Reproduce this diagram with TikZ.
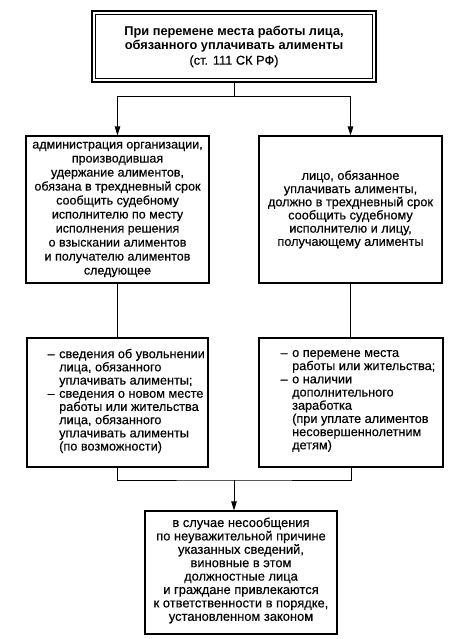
\documentclass[tikz,border=0pt]{standalone}
\usepackage{fontspec}
\setmainfont{Liberation Sans}
\newfontfamily\bodyfont{Liberation Sans}[FakeBold=0.4]
\usetikzlibrary{arrows.meta}
\begin{document}
\begin{tikzpicture}[x=1pt,y=1pt,
  box/.style={draw, line width=1.1pt, inner sep=0pt},
  txt/.style={font=\bodyfont\fontsize{12.7}{13.2}\selectfont, align=center, inner sep=0pt},
  ltxt/.style={font=\bodyfont\fontsize{12.7}{13.2}\selectfont, align=left, inner sep=0pt, anchor=west},
  conn/.style={line width=1pt},
  arr/.style={conn, -{Triangle[length=9pt,width=5.5pt]}}]
\useasboundingbox (0,0) rectangle (458,-639);
% top box
\node[box, line width=2.4pt, minimum width=284pt, minimum height=71pt] (top) at (234,-46.5) {};
\draw[line width=0.8pt] ([shift={(4.5,-4.5)}]top.north west) rectangle ([shift={(-4.5,4.5)}]top.south east);
\node[txt, font=\fontsize{12.8}{14.8}\selectfont] (toptext) at (234,-46.5)
  {\textbf{При перемене места работы лица,}\\\textbf{обязанного уплачивать алименты}\\{\bodyfont(ст. 111 СК РФ)}};
% second row
\node[box, minimum width=183pt, minimum height=147pt] (l2) at (117.5,-209.5) {};
\node[txt, font=\bodyfont\fontsize{12.5}{14}\selectfont] (l2t) at (l2.center)
  {администрация организации,\\производившая\\удержание алиментов,\\обязана в трехдневный срок\\сообщить судебному\\исполнителю по месту\\исполнения решения\\о взыскании алиментов\\и получателю алиментов\\следующее};
\node[box, minimum width=183pt, minimum height=147pt] (r2) at (350.5,-209.5) {};
\node[txt] (r2t) at (r2.center)
  {лицо, обязанное\\уплачивать алименты,\\должно в трехдневный срок\\сообщить судебному\\исполнителю и лицу,\\получающему алименты};
% third row
\node[box, minimum width=181pt, minimum height=129pt] (l3) at (117.5,-402.5) {};
\node[ltxt] (l3t) at (59,-401)
  {\llap{–\hspace{4.5pt}}сведения об увольнении\\лица, обязанного\\уплачивать алименты;\\\llap{–\hspace{4.5pt}}сведения о новом месте\\работы или жительства\\лица, обязанного\\уплачивать алименты\\(по возможности)};
\node[box, minimum width=184pt, minimum height=129pt] (r3) at (351,-402.5) {};
\node[ltxt] (r3t) at (292,-401)
  {\llap{–\hspace{4.5pt}}о перемене места\\работы или жительства;\\\llap{–\hspace{4.5pt}}о наличии\\дополнительного\\заработка\\(при уплате алиментов\\несовершеннолетним\\детям)};
% bottom box
\node[box, minimum width=192pt, minimum height=123pt] (b4) at (241,-572.5) {};
\node[txt, font=\bodyfont\fontsize{12.9}{13.4}\selectfont] (b4t) at (241,-570.5)
  {в случае несообщения\\по неуважительной причине\\указанных сведений,\\виновные в этом\\должностные лица\\и граждане привлекаются\\к ответственности в порядке,\\установленном законом};
% connectors
\coordinate (j1) at (234,-97);
\draw[conn] (top.south) -- (j1);
\draw[arr] (j1) -| (l2.north);
\draw[arr] (j1) -| (r2.north);
\draw[conn] (l2.south) -- (l3.north);
\draw[conn] (r2.south) -- (r2.south |- r3.north);
\coordinate (j2) at (234,-480);
\draw[conn] (l3.south) |- (j2) -| (r3.south);
\draw[arr] (j2) -- (j2 |- b4.north);
\end{tikzpicture}
\end{document}
